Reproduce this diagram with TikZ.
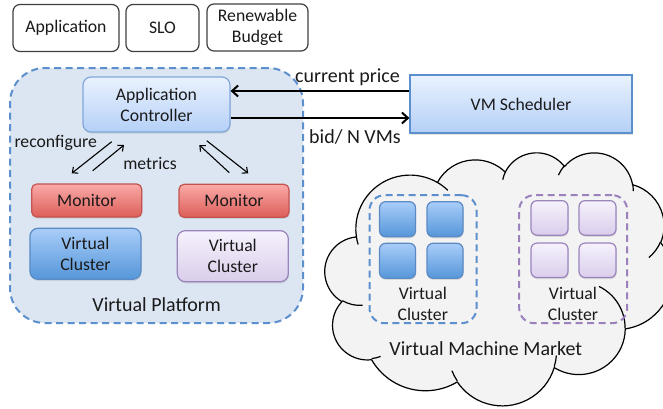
\documentclass[tikz,border=0pt]{standalone}
\usepackage{fontspec}
\setmainfont{Carlito}
\usetikzlibrary{arrows.meta,shadows}

\definecolor{platfill}{HTML}{DCE6F2}
\definecolor{platdash}{HTML}{5B8FCD}
\definecolor{ctrltop}{HTML}{EAF2FE}
\definecolor{ctrlbot}{HTML}{B4D0F7}
\definecolor{ctrlline}{HTML}{7FA7DB}
\definecolor{montop}{HTML}{FAAAA8}
\definecolor{monbot}{HTML}{DC5E58}
\definecolor{monline}{HTML}{C4524F}
\definecolor{bvtop}{HTML}{A9CDF9}
\definecolor{bvbot}{HTML}{5596D9}
\definecolor{bvline}{HTML}{5B8AC5}
\definecolor{pvtop}{HTML}{F6F2FC}
\definecolor{pvbot}{HTML}{DACDEB}
\definecolor{pvline}{HTML}{9A84BC}
\definecolor{pvdash}{HTML}{9B82BD}
\definecolor{cloudfill}{HTML}{F3F3F3}
\definecolor{txt}{HTML}{1A1A1A}

% DrawingML-style elliptical arc: visual start angle #3, visual sweep #4
\newcommand\cldarc[4]{arc[x radius=#1, y radius=#2,
  start angle={atan2(#1*sin(#3),#2*cos(#3))},
  delta angle={mod(atan2(#1*sin(#3+#4),#2*cos(#3+#4))-atan2(#1*sin(#3),#2*cos(#3))+720,360)}]}

\tikzset{
  smalltxt/.style={font=\fontsize{17.7}{21}\selectfont, text=txt, align=center, inner sep=0pt},
  bigtxt/.style={font=\fontsize{20}{23}\selectfont, text=txt, align=center, inner sep=0pt},
  topbox/.style={smalltxt, draw=black!75, line width=1.2pt, rounded corners=7pt, fill=white, minimum height=47pt},
  softshadow/.style={drop shadow={opacity=0.22, shadow xshift=0.6pt, shadow yshift=-1.6pt}},
  ctrlbox/.style={smalltxt, draw=ctrlline, line width=1.2pt, top color=ctrltop, bottom color=ctrlbot, softshadow},
  monbox/.style={smalltxt, draw=monline, line width=1.2pt, top color=montop, bottom color=monbot, rounded corners=5pt, softshadow, minimum width=110pt, minimum height=33pt},
  bluebox/.style={smalltxt, draw=bvline, line width=1.2pt, top color=bvtop, bottom color=bvbot, rounded corners=8pt, softshadow},
  purplebox/.style={smalltxt, draw=pvline, line width=1.2pt, top color=pvtop, bottom color=pvbot, rounded corners=8pt, softshadow},
  bigarrow/.style={line width=2pt, -{Straight Barb[length=6pt,width=11pt]}},
  smallarrow/.style={line width=1.1pt, -{Straight Barb[length=4.5pt,width=8pt]}},
  dashgroup/.style={line width=2pt, dash pattern=on 7pt off 4.5pt, rounded corners=15pt, minimum width=107pt, minimum height=128pt, inner sep=0pt},
}

\begin{document}
\begin{tikzpicture}[x=1pt,y=-1pt]
\useasboundingbox (0,0) rectangle (663,408);

% top boxes
\node[topbox, minimum width=106pt] (app) at (66,28) {Application};
\node[topbox, minimum width=73pt] (slo) at (162.5,28) {SLO};
\node[topbox, minimum width=101pt] (budget) at (257.5,27.5) {Renewable\\Budget};

% virtual platform
\node[draw=platdash, fill=platfill, line width=2pt, dash pattern=on 7pt off 4.5pt,
  rounded corners=35pt, minimum width=293pt, minimum height=255pt, inner sep=0pt] (plat) at (156.5,195.5) {};
\node[bigtxt] (platlbl) at (156.7,305) {Virtual Platform};

% controller and scheduler
\node[ctrlbox, rounded corners=8pt, minimum width=147pt, minimum height=55pt] (ctrl) at (156.5,104.5) {Application\\Controller};
\node[ctrlbox, draw=platdash, minimum width=222pt, minimum height=58pt] (sched) at (521,104) {VM Scheduler};

\draw[bigarrow] ([yshift=13pt]sched.west) -- ([yshift=13pt]sched.west -| ctrl.east);
\draw[bigarrow] ([yshift=-14pt]sched.west -| ctrl.east) -- ([yshift=-14pt]sched.west);
\node[bigtxt] (cp) at (347.5,77) {current price};
\node[bigtxt] (bid) at (355,137) {bid/ N VMs};

% monitors and clusters
\node[monbox] (mon1) at (86.7,200.5) {Monitor};
\node[monbox] (mon2) at (234,200.8) {Monitor};
\node[bluebox, minimum width=111pt, minimum height=51pt] (vc1) at (85.4,253.8) {Virtual\\Cluster};
\node[purplebox, minimum width=111pt, minimum height=51pt] (vc2) at (232.8,256.2) {Virtual\\Cluster};

% feedback arrows
\coordinate (a1s) at (111.7,141.7); \coordinate (a1e) at (71.7,173.3);
\coordinate (a2s) at (92.7,170.7);  \coordinate (a2e) at (124,145);
\coordinate (a3s) at (229.3,172.7); \coordinate (a3e) at (199.3,145);
\coordinate (a4s) at (206.7,140.7); \coordinate (a4e) at (248.3,173.3);
\draw[smallarrow] (a1s) -- (a1e);
\draw[smallarrow] (a2s) -- (a2e);
\draw[smallarrow] (a3s) -- (a3e);
\draw[smallarrow] (a4s) -- (a4e);
\node[smalltxt] (reconf) at (55.7,143.3) {reconfigure};
\node[smalltxt] (metrics) at (150,163.3) {metrics};

% cloud (virtual machine market)
\begin{scope}[shift={(325,152)}, x=0.8027pt, y=-0.5856pt]
\draw[fill=cloudfill, line width=1.2pt, line join=round] (39.00,143.70)
  \cldarc{67.53}{91.90}{-190.48748}{123.78053}
  \cldarc{53.33}{72.67}{-144.10238}{89.94523}
  \cldarc{43.65}{59.45}{-145.80792}{99.72302}
  \cldarc{48.57}{65.95}{-130.98607}{117.24173}
  \cldarc{53.33}{72.73}{-78.70888}{109.02692}
  \cldarc{67.75}{92.20}{-46.26725}{130.269}
  \cldarc{57.85}{78.67}{0.62502}{114.03333}
  \cldarc{67.52}{92.15}{22.4516}{115.17255}
  \cldarc{77.20}{105.43}{66.24263}{75.71102}
  \cldarc{43.60}{59.18}{-274.94208}{146.73557}
  \cldarc{43.45}{59.45}{-246.8285}{152.51885}
  -- cycle;
\draw[line width=1.2pt]
  (46.93,261.77) \cldarc{43.45}{59.45}{86.742}{26.4295}
  (69.28,348.99) \cldarc{43.60}{59.18}{73.61047}{11.44747}
  (164.78,390.90) \cldarc{67.52}{92.15}{137.62415}{14.0811}
  (288.27,347.51) \cldarc{67.52}{92.15}{6.45327}{15.99835}
  (341.29,229.54) \cldarc{57.85}{78.67}{-70.29235}{70.91737}
  (417.98,153.54) \cldarc{53.33}{72.73}{30.31803}{27.7515}
  (383.24,54.26) \cldarc{48.57}{65.95}{-13.74433}{14.8589}
  (290.78,39.52) \cldarc{48.57}{65.95}{-149.18145}{18.19537}
  (221.41,47.20) \cldarc{43.65}{59.45}{-163.49427}{17.68635}
  (140.00,51.92) \cldarc{67.53}{91.90}{-66.70695}{12.31935}
  (41.27,157.89) \cldarc{67.53}{91.90}{157.65435}{11.85817};
\end{scope}

% clusters in the market
\node[dashgroup, draw=platdash] (mktb) at (423,259.2) {};
\node[dashgroup, draw=pvdash, minimum width=108pt] (mktp) at (573.2,259.2) {};
\node[bluebox, minimum width=36pt, minimum height=35pt, rounded corners=6pt] (b1) at (397.5,219.2) {};
\node[bluebox, minimum width=36pt, minimum height=35pt, rounded corners=6pt] (b2) at (445,219.2) {};
\node[bluebox, minimum width=36pt, minimum height=35pt, rounded corners=6pt] (b3) at (397.5,260.8) {};
\node[bluebox, minimum width=36pt, minimum height=35pt, rounded corners=6pt] (b4) at (445,260.8) {};
\node[purplebox, minimum width=37pt, minimum height=34.5pt, rounded corners=6pt] (p1) at (549.5,217.9) {};
\node[purplebox, minimum width=37pt, minimum height=34.5pt, rounded corners=6pt] (p2) at (597.5,217.9) {};
\node[purplebox, minimum width=37pt, minimum height=34.5pt, rounded corners=6pt] (p3) at (549.5,260.3) {};
\node[purplebox, minimum width=37pt, minimum height=34.5pt, rounded corners=6pt] (p4) at (597.5,260.3) {};
\node[smalltxt] (mktbl) at (422.8,304) {Virtual\\Cluster};
\node[smalltxt] (mktpl) at (573,304) {Virtual\\Cluster};
\node[bigtxt] (mktlbl) at (485.8,348.3) {Virtual Machine Market};
\end{tikzpicture}
\end{document}
